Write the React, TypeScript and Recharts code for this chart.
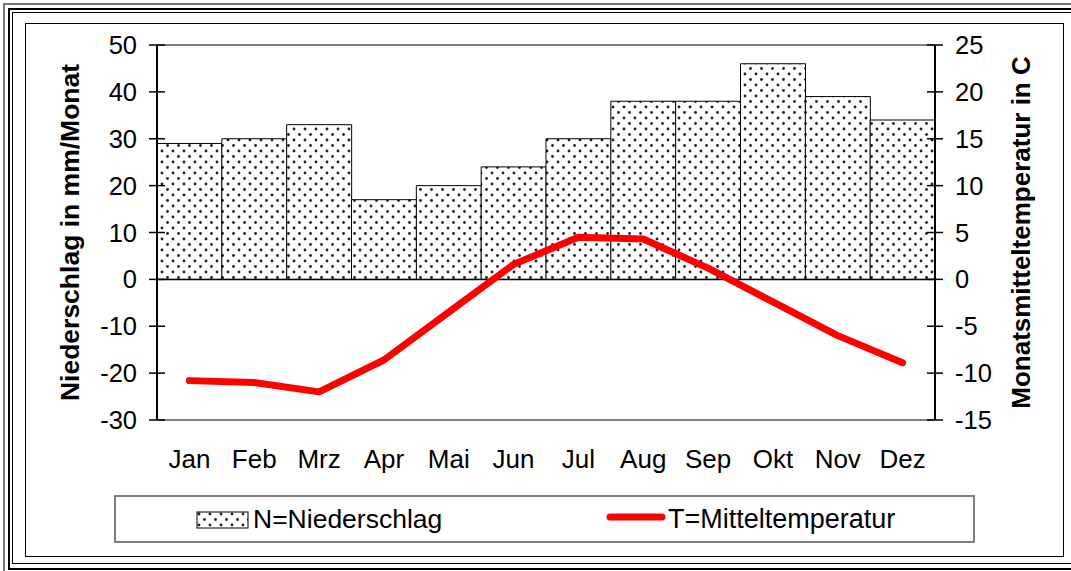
import React from 'react';
import {
  ComposedChart,
  Bar,
  Line,
  XAxis,
  YAxis,
  Legend,
  ReferenceLine,
} from 'recharts';

const months = ['Jan', 'Feb', 'Mrz', 'Apr', 'Mai', 'Jun', 'Jul', 'Aug', 'Sep', 'Okt', 'Nov', 'Dez'];
const niederschlag = [29, 30, 33, 17, 20, 24, 30, 38, 38, 46, 39, 34];
const temperatur = [-10.8, -11.0, -12.0, -8.6, -3.5, 1.6, 4.5, 4.3, 1.2, -2.4, -6.0, -8.9];
const leftTicks = [-30, -20, -10, 0, 10, 20, 30, 40, 50];
const rightTicks = [-15, -10, -5, 0, 5, 10, 15, 20, 25];

const data = months.map((month, i) => ({
  month,
  n: niederschlag[i],
  t: temperatur[i],
}));

const FONT = '"Liberation Sans", Arial, sans-serif';
const GAP = 20;

// Excel style ticks that cross the axis line
const LeftTick = (props: any) => {
  const { x, y, payload } = props;
  const ax = x + GAP;
  return (
    <g>
      <line x1={ax - 8} x2={ax + 8} y1={y} y2={y} stroke="#000" strokeWidth={1.5} />
      <text x={x} y={y} dy={9} textAnchor="end" fontSize={25.5} fill="#000" fontFamily={FONT}>
        {payload.value}
      </text>
    </g>
  );
};

const RightTick = (props: any) => {
  const { x, y, payload } = props;
  const ax = x - GAP;
  return (
    <g>
      <line x1={ax - 8} x2={ax + 8} y1={y} y2={y} stroke="#000" strokeWidth={1.5} />
      <text x={x} y={y} dy={9} textAnchor="start" fontSize={25.5} fill="#000" fontFamily={FONT}>
        {payload.value}
      </text>
    </g>
  );
};

const renderLegend = (props: any) => {
  const { payload } = props;
  const bar = payload.find((p: any) => p.dataKey === 'n');
  const line = payload.find((p: any) => p.dataKey === 't');
  return (
    <svg width={861} height={48} style={{ display: 'block' }}>
      <rect x={1} y={1} width={859} height={46} fill="#fff" stroke="#808080" strokeWidth={2} />
      <rect x={83} y={17} width={51} height={16} fill="url(#dots)" stroke="#000" strokeWidth={1} />
      <text x={139} y={33} fontSize={26.5} fill="#000" fontFamily={FONT}>
        {bar ? bar.value : ''}
      </text>
      <line x1={496} x2={548} y1={22} y2={22} stroke="#ff0000" strokeWidth={7} strokeLinecap="round" />
      <text x={554} y={33} fontSize={27} fill="#000" fontFamily={FONT}>
        {line ? line.value : ''}
      </text>
    </svg>
  );
};

const App: React.FC = () => {
  return (
    <div
      style={{
        position: 'absolute',
        left: 0,
        top: 0,
        width: 1071,
        height: 571,
        background: '#fff',
        fontFamily: FONT,
        overflow: 'hidden',
      }}
    >
      {/* outer frame */}
      <div style={{ position: 'absolute', left: 3, top: 3, width: 1100, height: 570, borderTop: '2px solid #777', borderLeft: '2px solid #777' }} />
      <div style={{ position: 'absolute', left: 8, top: 8, width: 1100, height: 558, border: '2px solid #000' }} />
      <div style={{ position: 'absolute', left: 12, top: 12, width: 1100, height: 550, border: '1.5px solid #000' }} />
      <div style={{ position: 'absolute', left: 25, top: 23, width: 1037, height: 532, border: '1.5px solid #000' }} />

      <div style={{ position: 'absolute', left: 0, top: 0 }}>
        <ComposedChart
          width={1071}
          height={571}
          data={data}
          barCategoryGap={0}
          margin={{ top: 45, right: 30, bottom: 43, left: 40 }}
        >
          <defs>
            <pattern id="dots" width={11} height={11} patternUnits="userSpaceOnUse">
              <rect width={11} height={11} fill="#fff" />
              <circle cx={2.5} cy={2.5} r={1.4} fill="#222" />
              <circle cx={8} cy={8} r={1.4} fill="#222" />
            </pattern>
          </defs>
          <XAxis
            dataKey="month"
            tickLine={false}
            tickSize={0}
            tickMargin={30}
            height={60}
            axisLine={{ stroke: '#808080', strokeWidth: 2 }}
            tick={{ fontSize: 26, fill: '#000', fontFamily: FONT }}
            interval={0}
          />
          <YAxis
            yAxisId="left"
            domain={[-30, 50]}
            ticks={leftTicks}
            width={117}
            tickLine={false}
            tickSize={0}
            tickMargin={GAP}
            tick={<LeftTick />}
            axisLine={{ stroke: '#000', strokeWidth: 2 }}
            interval={0}
            label={{
              value: 'Niederschlag in mm/Monat',
              angle: -90,
              position: 'insideLeft',
              offset: 30,
              style: { textAnchor: 'middle', fontSize: 26.5, fontWeight: 'bold', fill: '#000', fontFamily: FONT },
            }}
          />
          <YAxis
            yAxisId="right"
            orientation="right"
            domain={[-15, 25]}
            ticks={rightTicks}
            width={106}
            tickLine={false}
            tickSize={0}
            tickMargin={GAP}
            tick={<RightTick />}
            axisLine={{ stroke: '#000', strokeWidth: 2 }}
            interval={0}
            label={{
              value: 'Monatsmitteltemperatur in C',
              angle: -90,
              position: 'insideRight',
              offset: 20,
              style: { textAnchor: 'middle', fontSize: 26, fontWeight: 'bold', fill: '#000', fontFamily: FONT },
            }}
          />
          <ReferenceLine yAxisId="left" y={50} stroke="#808080" strokeWidth={2} />
          <Bar
            yAxisId="left"
            dataKey="n"
            name="N=Niederschlag"
            fill="url(#dots)"
            stroke="#000"
            strokeWidth={1}
            isAnimationActive={false}
          />
          <ReferenceLine yAxisId="left" y={0} stroke="#000" strokeWidth={1.5} />
          <Line
            yAxisId="right"
            dataKey="t"
            name="T=Mitteltemperatur"
            type="linear"
            stroke="#ff0000"
            strokeWidth={7}
            strokeLinecap="round"
            strokeLinejoin="round"
            dot={false}
            activeDot={false}
            isAnimationActive={false}
          />
          <Legend
            verticalAlign="bottom"
            content={renderLegend}
            wrapperStyle={{ left: 114, top: 495, width: 861, height: 48 }}
          />
        </ComposedChart>
      </div>
    </div>
  );
};

export default App;
